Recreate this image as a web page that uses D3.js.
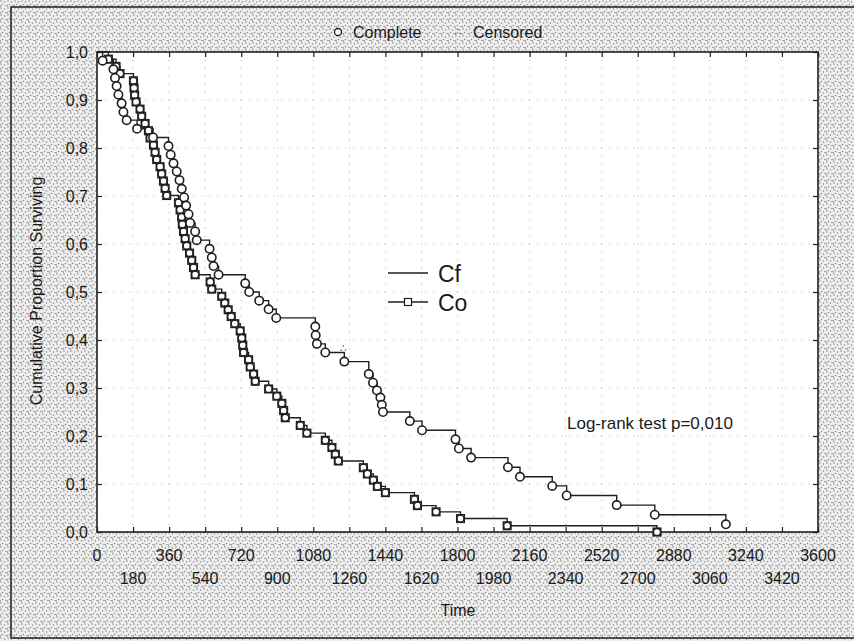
<!DOCTYPE html>
<html><head><meta charset="utf-8">
<script src="https://cdn.jsdelivr.net/npm/d3@7/dist/d3.min.js"></script>
<style>body{margin:0;background:#fff}svg{display:block}text{font-family:Arial,"Liberation Sans",sans-serif;fill:#1a1a1a}</style>
</head><body><svg id="c" width="854" height="641"></svg>
<script>
// ---- data ----
const cfTime = [28, 82, 90, 98, 107, 123, 132, 148, 200, 280, 357, 368, 382, 398, 412, 423, 435, 445, 457, 465, 490, 498, 562, 573, 582, 607, 740, 760, 810, 857, 895, 1090, 1092, 1098, 1140, 1235, 1357, 1378, 1398, 1415, 1422, 1428, 1562, 1623, 1790, 1807, 1868, 2052, 2112, 2273, 2345, 2595, 2785, 3140];
const cfSurv = [0.982, 0.964, 0.946, 0.929, 0.911, 0.893, 0.875, 0.858, 0.840, 0.822, 0.804, 0.786, 0.768, 0.751, 0.733, 0.715, 0.697, 0.680, 0.662, 0.644, 0.626, 0.608, 0.590, 0.572, 0.554, 0.536, 0.518, 0.500, 0.482, 0.464, 0.446, 0.428, 0.410, 0.392, 0.374, 0.355, 0.329, 0.311, 0.295, 0.280, 0.265, 0.250, 0.231, 0.212, 0.193, 0.174, 0.155, 0.135, 0.115, 0.096, 0.076, 0.056, 0.036, 0.016];
const coTime = [57, 95, 115, 182, 185, 188, 195, 215, 223, 240, 257, 265, 282, 290, 298, 315, 323, 332, 340, 348, 407, 415, 423, 426, 432, 440, 448, 462, 473, 482, 490, 565, 573, 623, 638, 655, 670, 688, 715, 723, 728, 732, 757, 765, 782, 790, 857, 898, 923, 932, 940, 1015, 1048, 1140, 1173, 1190, 1205, 1330, 1350, 1380, 1400, 1440, 1585, 1600, 1693, 1815, 2048, 2796];
const coSurv = [0.985, 0.970, 0.955, 0.940, 0.925, 0.910, 0.896, 0.881, 0.866, 0.851, 0.836, 0.821, 0.806, 0.791, 0.776, 0.761, 0.746, 0.731, 0.716, 0.701, 0.686, 0.671, 0.656, 0.641, 0.626, 0.611, 0.596, 0.581, 0.566, 0.551, 0.536, 0.521, 0.506, 0.491, 0.477, 0.463, 0.449, 0.434, 0.419, 0.404, 0.389, 0.374, 0.359, 0.344, 0.329, 0.314, 0.298, 0.283, 0.268, 0.253, 0.238, 0.222, 0.206, 0.191, 0.176, 0.162, 0.148, 0.134, 0.121, 0.108, 0.095, 0.082, 0.068, 0.055, 0.042, 0.028, 0.013, 0.0];
const cfCensTime = [1230];
const cfCensSurv = [0.374];
const xTicksTop = [0, 360, 720, 1080, 1440, 1800, 2160, 2520, 2880, 3240, 3600];
const xTicksBottom = [180, 540, 900, 1260, 1620, 1980, 2340, 2700, 3060, 3420];
const yTicks = [0, 0.1, 0.2, 0.3, 0.4, 0.5, 0.6, 0.7, 0.8, 0.9, 1.0];
const seriesNames = ["Cf", "Co"];
const legendTop = ["Complete", "Censored"];
const xTitle = "Time";
const yTitle = "Cumulative Proportion Surviving";
const note = "Log-rank test p=0,010";

// ---- drawing ----
const svg = d3.select("#c");
const L = 97, R = 818, T = 52, B = 532;
const x = d3.scaleLinear().domain([0, 3600]).range([L, R]);
const y = d3.scaleLinear().domain([0, 1]).range([B, T]);
const ink = "#1f1f1f";

const defs = svg.append("defs");
const pat = defs.append("pattern").attr("id", "stip").attr("width", 7).attr("height", 7).attr("patternUnits", "userSpaceOnUse");
pat.append("rect").attr("width", 7).attr("height", 7).attr("fill", "#efefef");
[[1, 1], [4.5, 2], [2.5, 4.5], [6, 5.5], [0.5, 6]].forEach(p => pat.append("circle").attr("cx", p[0]).attr("cy", p[1]).attr("r", 0.75).attr("fill", "#858585"));

svg.append("rect").attr("width", 854).attr("height", 641).attr("fill", "url(#stip)");
svg.append("rect").attr("x", 11).attr("y", 7).attr("width", 900).attr("height", 631)
  .attr("fill", "none").attr("stroke", "#2a2a2a").attr("stroke-width", 1.6);
svg.append("rect").attr("x", L).attr("y", T).attr("width", R - L).attr("height", B - T).attr("fill", "#fff");

// grid
const allX = xTicksTop.concat(xTicksBottom).sort((a, b) => a - b);
const g = svg.append("g").attr("stroke", "#9a9a9a").attr("stroke-width", 0.8).attr("stroke-dasharray", "1,7");
g.selectAll(".gx").data(allX.filter(d => d > 0 && d < 3600)).join("line")
  .attr("x1", d => x(d)).attr("x2", d => x(d)).attr("y1", T).attr("y2", B);
g.selectAll(".gy").data(yTicks.filter(d => d > 0 && d < 1)).join("line")
  .attr("y1", d => y(d)).attr("y2", d => y(d)).attr("x1", L).attr("x2", R);

// axes with inward ticks
const fmt = d => d3.format(".1f")(d).replace(".", ",");
const axB = svg.append("g").attr("transform", `translate(0,${B})`).call(d3.axisTop(x).tickValues(allX).tickSize(5).tickFormat(""));
const axT = svg.append("g").attr("transform", `translate(0,${T})`).call(d3.axisBottom(x).tickValues(allX).tickSize(5).tickFormat(""));
const axL = svg.append("g").attr("transform", `translate(${L},0)`).call(d3.axisRight(y).tickValues(yTicks).tickSize(5).tickFormat(""));
const axR = svg.append("g").attr("transform", `translate(${R},0)`).call(d3.axisLeft(y).tickValues(yTicks).tickSize(5).tickFormat(""));
[axB, axT, axL, axR].forEach(a => { a.select(".domain").remove(); a.selectAll("line").attr("stroke", ink).attr("stroke-width", 1.2); });
svg.append("rect").attr("x", L).attr("y", T).attr("width", R - L).attr("height", B - T)
  .attr("fill", "none").attr("stroke", ink).attr("stroke-width", 1.6);

// tick labels
svg.selectAll(".yl").data(yTicks).join("text").attr("x", 88).attr("y", d => y(d) + 5.5)
  .attr("text-anchor", "end").attr("font-size", 16).text(fmt);
svg.selectAll(".xl1").data(xTicksTop).join("text").attr("x", d => x(d)).attr("y", 561)
  .attr("text-anchor", "middle").attr("font-size", 16).text(d => d);
svg.selectAll(".xl2").data(xTicksBottom).join("text").attr("x", d => x(d)).attr("y", 584)
  .attr("text-anchor", "middle").attr("font-size", 16).text(d => d);
svg.append("text").attr("x", 458).attr("y", 616).attr("text-anchor", "middle").attr("font-size", 16).text(xTitle);
svg.append("text").attr("transform", "translate(42,291) rotate(-90)").attr("text-anchor", "middle").attr("font-size", 16).text(yTitle);

// step curves
function stepPts(ts, ss) {
  const pts = [[0, 1]];
  let prev = 1;
  ts.forEach((t, i) => { pts.push([t, prev]); pts.push([t, ss[i]]); prev = ss[i]; });
  return pts;
}
const line = d3.line().x(d => x(d[0])).y(d => y(d[1]));
svg.append("path").attr("d", line(stepPts(coTime, coSurv))).attr("fill", "none").attr("stroke", ink).attr("stroke-width", 1.4);
svg.append("path").attr("d", line(stepPts(cfTime, cfSurv))).attr("fill", "none").attr("stroke", ink).attr("stroke-width", 1.4);

// markers
const coPts = coTime.map((t, i) => [t, coSurv[i]]);
const cfPts = cfTime.map((t, i) => [t, cfSurv[i]]);
svg.selectAll(".cos").data(coPts).join("rect")
  .attr("x", d => x(d[0]) - 3.8).attr("y", d => y(d[1]) - 3.8).attr("width", 7.6).attr("height", 7.6)
  .attr("fill", "#fff").attr("stroke", ink).attr("stroke-width", 1.5);
svg.selectAll(".coc").data(coPts).join("circle")
  .attr("cx", d => x(d[0])).attr("cy", d => y(d[1])).attr("r", 3.5)
  .attr("fill", "none").attr("stroke", ink).attr("stroke-width", 1.3);
svg.selectAll(".cfc").data(cfPts).join("circle")
  .attr("cx", d => x(d[0])).attr("cy", d => y(d[1])).attr("r", 4.2)
  .attr("fill", "#fff").attr("stroke", ink).attr("stroke-width", 1.6);

// censored marks (small dot clusters)
function censGlyph(cx, cy) {
  [[0, -2.5], [-2.2, 1.5], [2.2, 1.5]].forEach(o => svg.append("circle").attr("cx", cx + o[0]).attr("cy", cy + o[1]).attr("r", 0.8).attr("fill", "#555"));
}
cfCensTime.forEach((t, i) => censGlyph(x(t), y(cfCensSurv[i]) - 4));

// top legend
svg.append("circle").attr("cx", 338).attr("cy", 32).attr("r", 3.5).attr("fill", "#fff").attr("stroke", ink).attr("stroke-width", 1.3);
svg.append("text").attr("x", 353).attr("y", 37.5).attr("font-size", 16).text(legendTop[0]);
censGlyph(458, 32);
svg.append("text").attr("x", 473).attr("y", 37.5).attr("font-size", 16).text(legendTop[1]);

// in-plot legend
svg.append("line").attr("x1", 388).attr("x2", 428).attr("y1", 273).attr("y2", 273).attr("stroke", ink).attr("stroke-width", 1.3);
svg.append("text").attr("x", 438).attr("y", 281.5).attr("font-size", 23).text(seriesNames[0]);
svg.append("line").attr("x1", 388).attr("x2", 428).attr("y1", 302).attr("y2", 302).attr("stroke", ink).attr("stroke-width", 1.3);
svg.append("rect").attr("x", 404.5).attr("y", 298.5).attr("width", 7).attr("height", 7).attr("fill", "#fff").attr("stroke", ink).attr("stroke-width", 1.2);
svg.append("text").attr("x", 438).attr("y", 310.5).attr("font-size", 23).text(seriesNames[1]);

svg.append("text").attr("x", 567).attr("y", 429).attr("font-size", 17).text(note);
</script></body></html>
